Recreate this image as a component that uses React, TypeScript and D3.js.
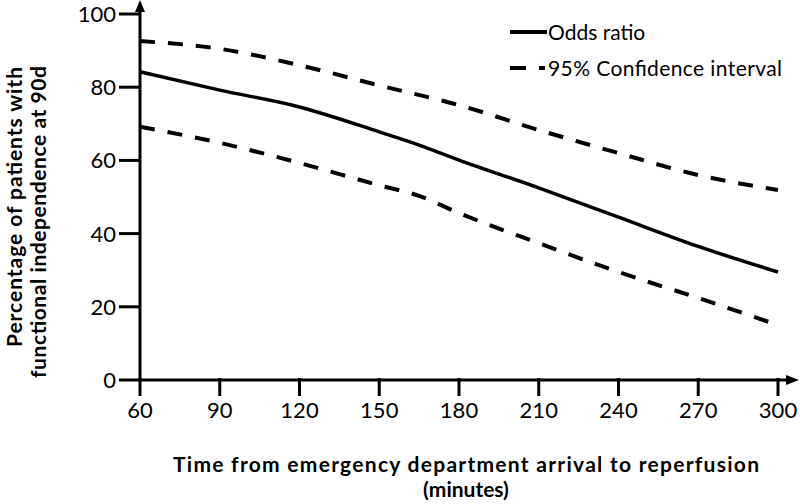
import React from "react";
import * as d3 from "d3";

const times = [60, 90, 120, 150, 165, 180, 210, 240, 270, 300];
const oddsRatio = [84.2, 79.2, 74.6, 67.8, 64.2, 60.1, 52.5, 44.5, 36.5, 29.5];
const upperTimes = [60, 90, 120, 150, 180, 210, 240, 270, 300];
const upperCI = [92.6, 90.5, 86, 80.5, 75.1, 68.3, 62, 56, 51.9];
const lowerTimes = [60, 90, 120, 150, 165, 180, 210, 240, 270, 300];
const lowerCI = [69.2, 64.8, 59.3, 53.2, 50.3, 45.6, 37.4, 29.5, 22.4, 15];
const xTicks = [60, 90, 120, 150, 180, 210, 240, 270, 300];
const yTicks = [0, 20, 40, 60, 80, 100];
const legendLabels = ["Odds ratio", "95% Confidence interval"];
const xTitle = ["Time from emergency department arrival to reperfusion", "(minutes)"];
const yTitle = ["Percentage of patients with", "functional independence at 90d"];

const W = 800;
const H = 504;
const FONT = "Lato, 'Open Sans', sans-serif";

export default function App() {
  const x = d3.scaleLinear().domain([60, 300]).range([140, 778]);
  const y = d3.scaleLinear().domain([0, 100]).range([380, 14]);
  const line = d3
    .line<[number, number]>()
    .x((d) => x(d[0]))
    .y((d) => y(d[1]))
    .curve(d3.curveMonotoneX);

  const solid = line(times.map((t, i) => [t, oddsRatio[i]]) as [number, number][]) || "";
  const upper = line(upperTimes.map((t, i) => [t, upperCI[i]]) as [number, number][]) || "";
  const lower = line(lowerTimes.map((t, i) => [t, lowerCI[i]]) as [number, number][]) || "";

  const x0 = x(60);
  const y0 = y(0);

  return (
    <svg
      width={W}
      height={H}
      style={{ position: "absolute", left: 0, top: 0, background: "#fff" }}
      fontFamily={FONT}
    >
      <rect width={W} height={H} fill="#fff" />
      {/* data lines */}
      <path d={upper} fill="none" stroke="#000" strokeWidth={4} strokeDasharray="15 13" />
      <path d={lower} fill="none" stroke="#000" strokeWidth={4} strokeDasharray="15 13" />
      <path d={solid} fill="none" stroke="#000" strokeWidth={3.5} />

      {/* axes */}
      <line x1={x0} y1={y0} x2={x0} y2={8} stroke="#000" strokeWidth={3} />
      <path d={`M${x0 - 5},${12} L${x0},${0} L${x0 + 5},${12} Z`} fill="#000" />
      <line x1={x0} y1={y0} x2={790} y2={y0} stroke="#000" strokeWidth={3} />
      <path d={`M${786},${y0 - 5} L${799},${y0} L${786},${y0 + 5} Z`} fill="#000" />

      {/* y ticks */}
      {yTicks.map((v) => (
        <g key={"y" + v}>
          <line x1={119} x2={x0} y1={y(v)} y2={y(v)} stroke="#000" strokeWidth={3} />
          <text x={116} y={y(v) + 8} textAnchor="end" fontSize={22} fill="#000">
            {v}
          </text>
        </g>
      ))}

      {/* x ticks */}
      {xTicks.map((v) => (
        <g key={"x" + v}>
          <line x1={x(v)} x2={x(v)} y1={y0 - 2} y2={y0 + 16} stroke="#000" strokeWidth={3} />
          <text x={x(v)} y={y0 + 38} textAnchor="middle" fontSize={22} fill="#000">
            {v}
          </text>
        </g>
      ))}

      {/* legend */}
      <line x1={510} x2={547} y1={32} y2={32} stroke="#000" strokeWidth={4} />
      <text x={548} y={40} fontSize={21} fill="#000">
        {legendLabels[0]}
      </text>
      <line x1={510} x2={545} y1={68} y2={68} stroke="#000" strokeWidth={4} strokeDasharray="16 13" />
      <text x={548} y={76} fontSize={21} fill="#000" textLength={234} lengthAdjust="spacing">
        {legendLabels[1]}
      </text>

      {/* axis titles */}
      <text x={466} y={472} textAnchor="middle" fontSize={21} fontWeight="bold" fill="#000" textLength={586} lengthAdjust="spacing">
        {xTitle[0]}
      </text>
      <text x={466} y={497} textAnchor="middle" fontSize={21} fontWeight="bold" fill="#000">
        {xTitle[1]}
      </text>
      <text
        transform={`translate(22,207) rotate(-90)`}
        textAnchor="middle"
        fontSize={21}
        fontWeight="bold"
        fill="#000"
        textLength={280}
        lengthAdjust="spacing"
      >
        {yTitle[0]}
      </text>
      <text
        transform={`translate(46,222) rotate(-90)`}
        textAnchor="middle"
        fontSize={21}
        fontWeight="bold"
        fill="#000"
        textLength={312}
        lengthAdjust="spacing"
      >
        {yTitle[1]}
      </text>
    </svg>
  );
}
